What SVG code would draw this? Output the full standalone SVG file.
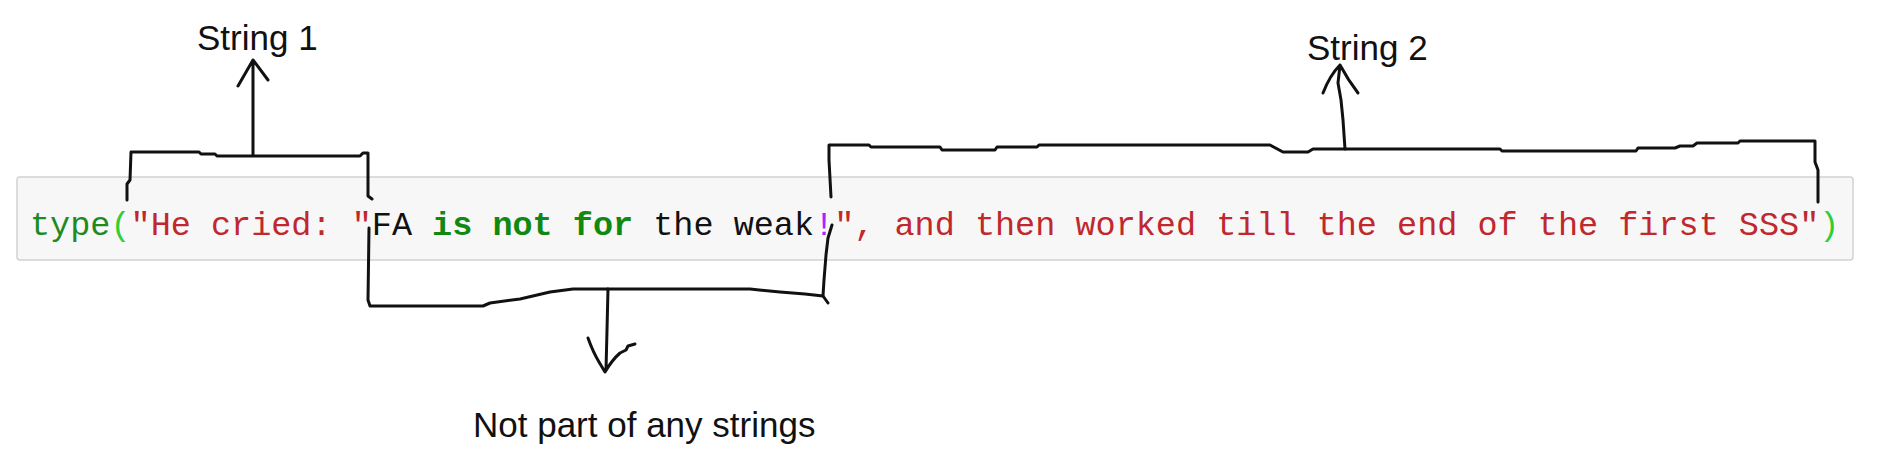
<svg xmlns="http://www.w3.org/2000/svg" width="1880" height="464" viewBox="0 0 1880 464">
<style>
.lbl{font-family:"Liberation Sans",Arial,sans-serif;font-size:35px;fill:#111}
.code{font-family:"Liberation Mono","Courier New",monospace;font-size:33.5px}
.g{fill:#1f8a1f}.bg{fill:#33cc33}.r{fill:#c0282d}.k{fill:#111}.kw{fill:#118811;font-weight:bold}.p{fill:#aa22ff}
.ink{fill:none;stroke:#111;stroke-width:3;stroke-linejoin:round;stroke-linecap:round}
</style>
<rect width="1880" height="464" fill="#fff"/>
<g id="code-cell">
<rect x="17" y="177" width="1836" height="83" rx="3" fill="#f7f7f7" stroke="#d2d2d2" stroke-width="1.5"/>
<text class="code" x="30" y="235" xml:space="preserve"><tspan class="g">type</tspan><tspan class="bg">(</tspan><tspan class="r">"He cried: "</tspan><tspan class="k">FA </tspan><tspan class="kw">is not for</tspan><tspan class="k"> the weak</tspan><tspan class="p">!</tspan><tspan class="r">", and then worked till the end of the first SSS"</tspan><tspan class="bg">)</tspan></text>
</g>
<g id="label-string1"><text class="lbl" x="197" y="50">String 1</text></g>
<g id="label-string2"><text class="lbl" x="1307" y="60">String 2</text></g>
<g id="label-notpart"><text class="lbl" x="473" y="437">Not part of any strings</text></g>
<g id="connectors">
<polyline class="ink" points="127,200 127,184 130,180 131,152 199,152 201,154 215,154 217,156 238,156 360,156 363,153 368,153 368,196 372,199"/>
<path class="ink" d="M253,155 L253,60 M238,86 L253,60 L268,80"/>
<polyline class="ink" points="369,228 368,300 370,306 483,306 490,303 520,299 550,292 573,289 750,289 780,292 805,294 823,296 828,303"/>
<polyline class="ink" points="832,225 828,238 826,255 824,280 823,296"/>
<path class="ink" d="M608,289 L607,330 L606,370 M588,338 Q593,352 599,362 L605,372 Q612,360 620,353 L626,350 L628,346 L635,344"/>
<polyline class="ink" points="831,197 829,160 829,145 869,145 871,147 940,147 942,150 995,150 997,147 1037,147 1039,145 1270,145 1283,152 1308,152 1313,149 1500,149 1502,151 1636,151 1638,148 1675,148 1680,146 1693,146 1697,143 1738,143 1740,141 1815,141 1815,162 1818,170 1818,202"/>
<path class="ink" d="M1345,149 L1343,120 L1341,100 L1338,83 L1340,65 M1323,93 Q1330,75 1340,65 Q1348,80 1358,93"/>
</g>
</svg>
